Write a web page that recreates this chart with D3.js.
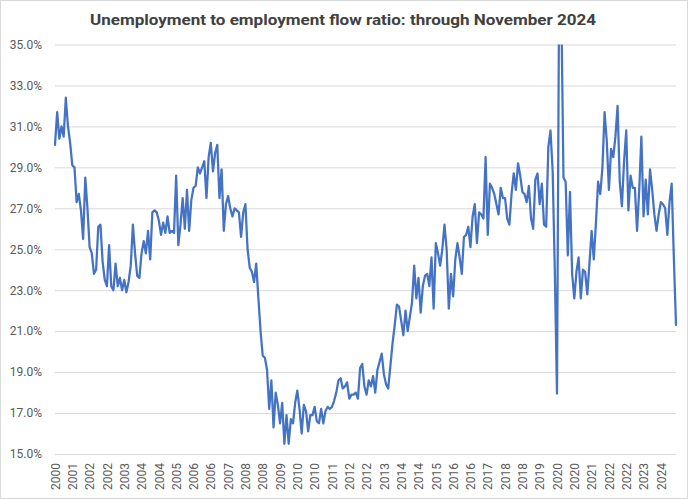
<!DOCTYPE html>
<html lang="en">
<head>
<meta charset="utf-8">
<title>Unemployment to employment flow ratio</title>
<script src="https://cdn.jsdelivr.net/npm/d3@7"></script>
<style>
  body { margin: 0; background: #fff; }
  svg text { font-family: Roboto, "Liberation Sans", sans-serif; }
</style>
</head>
<body>
<script>

// series starts December 2000 and runs monthly to November 2024
var startYear = 2000
var startMonth = 11   // 0 = Jan, so 11 = Dec
var labelEvery = 8    // category axis shows every 8th month

var yTicks = [15, 17, 19, 21, 23, 25, 27, 29, 31, 33, 35]

// U->E flow ratio, percent
var flowRatio = [
  30.1,                                                               // 2000 (Dec)
  31.7, 30.4, 31.0, 30.5, 32.4, 31.0, 30.2, 29.1, 29.0, 27.3, 27.7, 26.9, // 2001
  25.5, 28.5, 27.0, 25.1, 24.8, 23.8, 24.0, 26.1, 26.2, 24.4, 23.5, 23.2, // 2002
  25.2, 23.2, 23.0, 24.3, 23.2, 23.6, 23.0, 23.5, 22.9, 23.4, 24.2, 26.2, // 2003
  24.8, 23.7, 23.6, 24.8, 25.4, 24.8, 25.9, 24.5, 26.8, 26.9, 26.8, 26.4, // 2004
  25.7, 26.3, 25.8, 26.6, 25.8, 25.9, 25.8, 28.6, 25.2, 26.2, 27.5, 26.0, // 2005
  27.9, 25.9, 27.4, 28.0, 28.1, 29.0, 28.7, 29.0, 29.3, 27.5, 29.5, 30.2, // 2006
  28.8, 29.7, 30.1, 27.5, 28.9, 25.9, 27.2, 27.6, 27.0, 26.6, 27.0, 26.9, // 2007
  26.8, 25.6, 26.8, 27.2, 25.0, 24.1, 23.9, 23.4, 24.3, 22.6, 21.0, 19.8, // 2008
  19.7, 19.1, 17.2, 18.6, 16.3, 18.0, 17.4, 16.5, 17.5, 15.5, 16.9, 15.5, // 2009
  16.7, 16.5, 17.5, 18.1, 17.2, 16.0, 17.4, 17.1, 16.1, 16.9, 16.9, 17.3, // 2010
  16.6, 16.5, 17.2, 16.5, 17.1, 17.3, 17.2, 17.3, 17.6, 18.0, 18.6, 18.7, // 2011
  18.2, 18.3, 18.5, 17.7, 17.9, 17.9, 18.0, 17.7, 19.2, 19.4, 18.3, 17.9, // 2012
  18.6, 18.3, 18.8, 18.0, 19.1, 19.5, 19.9, 18.9, 18.4, 18.2, 19.3, 20.4, // 2013
  21.3, 22.3, 22.2, 21.5, 20.8, 22.0, 21.0, 21.7, 22.4, 24.2, 22.6, 23.6, // 2014
  21.9, 23.2, 23.7, 23.8, 23.2, 24.6, 22.1, 25.3, 24.8, 24.2, 25.0, 26.2, // 2015
  25.0, 22.1, 23.8, 22.7, 24.5, 25.3, 24.6, 23.8, 25.6, 25.7, 26.1, 25.1, // 2016
  26.6, 27.2, 25.3, 26.8, 26.7, 26.5, 29.5, 25.7, 28.2, 28.0, 27.7, 27.2, // 2017
  26.7, 28.0, 27.5, 27.5, 26.5, 26.2, 27.7, 28.7, 27.9, 29.2, 28.6, 27.8, // 2018
  27.7, 27.3, 28.1, 26.5, 26.0, 28.4, 28.7, 27.2, 28.2, 26.2, 26.1, 30.0, // 2019
  30.8, 28.8, 23.9, 17.95, 38.0, 36.8, 28.5, 28.3, 24.7, 27.8, 23.8, 22.6, // 2020
  23.9, 24.6, 22.6, 24.0, 23.9, 22.8, 24.3, 25.9, 24.5, 26.3, 28.3, 27.7, // 2021
  29.0, 31.7, 30.3, 27.9, 29.9, 29.5, 30.5, 32.0, 28.3, 27.1, 29.3, 30.8, // 2022
  26.9, 28.6, 28.0, 28.0, 25.9, 27.9, 30.5, 26.6, 28.4, 26.7, 28.9, 27.9, // 2023
  26.7, 25.9, 26.7, 27.3, 27.2, 27.0, 25.7, 27.3, 28.2, 24.6, 21.3        // 2024 (to Nov)
]

var titleText = "Unemployment to employment flow ratio: through November 2024"

// category year for each month in the series
var years = flowRatio.map(function(d, i) {
    return new Date(startYear, startMonth + i, 1).getFullYear()
})

var w = 688
var h = 499
// plot area edges (don't call these top/left, window.top is read-only)
var plotL = 55, plotR = 676, plotT = 44.5, plotB = 454

var svg = d3.select("body").append("svg")
    .attr("width", w)
    .attr("height", h)

// chart area border like Excel
svg.append("rect")
    .attr("x", 0.5).attr("y", 0.5)
    .attr("width", w - 1).attr("height", h - 1)
    .attr("fill", "#fff")
    .attr("stroke", "#d9d9d9")

var xScale = d3.scalePoint()
    .domain(d3.range(flowRatio.length))
    .range([plotL, plotR])

var yScale = d3.scaleLinear()
    .domain([15, 35])
    .range([plotB, plotT])

// y axis with gridlines
var yAxis = svg.append("g")
    .attr("transform", "translate(" + plotL + ",0)")
    .call(d3.axisLeft(yScale)
        .tickValues(yTicks)
        .tickSize(-(plotR - plotL))
        .tickPadding(13)
        .tickFormat(function(d) { return d.toFixed(1) + "%" }))
yAxis.select(".domain").remove()
yAxis.selectAll("line").attr("stroke", "#d9d9d9")
yAxis.selectAll("text")
    .attr("fill", "#595959")
    .style("font-size", "12px")

// x axis: year label on every 8th month, rotated
var xTicks = d3.range(0, flowRatio.length, labelEvery)
var xAxis = svg.append("g")
    .attr("transform", "translate(0," + plotB + ")")
    .call(d3.axisBottom(xScale)
        .tickValues(xTicks)
        .tickSize(0)
        .tickFormat(function(i) { return years[i] }))
xAxis.select(".domain").remove()
xAxis.selectAll("text")
    .attr("transform", "rotate(-90)")
    .attr("text-anchor", "end")
    .attr("x", -9)
    .attr("y", 0)
    .attr("dy", "0.35em")
    .attr("fill", "#595959")
    .style("font-size", "12px")

// clip the line to the plot area (the 2020 spike runs off the top)
svg.append("clipPath").attr("id", "plotClip")
    .append("rect")
    .attr("x", plotL - 5).attr("y", plotT)
    .attr("width", plotR - plotL + 10).attr("height", plotB - plotT + 5)

var line = d3.line()
    .x(function(d, i) { return xScale(i) })
    .y(function(d) { return yScale(d) })

svg.append("path")
    .datum(flowRatio)
    .attr("clip-path", "url(#plotClip)")
    .attr("d", line)
    .attr("fill", "none")
    .attr("stroke", "#4472c4")
    .attr("stroke-width", 2.25)
    .attr("stroke-linejoin", "round")
    .attr("stroke-linecap", "round")

// title
svg.append("text")
    .attr("x", 343)
    .attr("y", 25)
    .attr("text-anchor", "middle")
    .attr("fill", "#404040")
    .style("font-size", "15px")
    .style("font-weight", "bold")
    .attr("textLength", 506)
    .attr("lengthAdjust", "spacingAndGlyphs")
    .text(titleText)

</script>
</body>
</html>
